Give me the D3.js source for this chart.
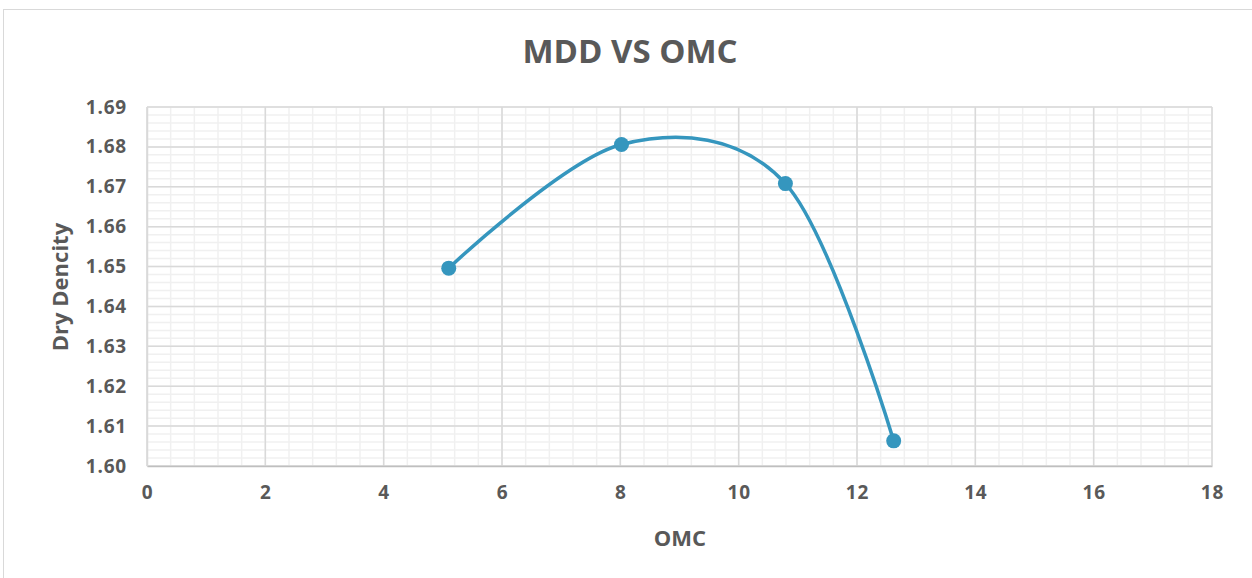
<!DOCTYPE html>
<html>
<head>
<meta charset="utf-8">
<script src="https://cdn.jsdelivr.net/npm/d3@7"></script>
<style>
  body { margin: 0; background: #fff; }
  text { font-family: "Open Sans", Lato, sans-serif; font-weight: bold; fill: #595959; }
</style>
</head>
<body>
<div id="chart"></div>
<script>
var omc = [5.1, 8.02, 10.79, 12.62];
var dryDensity = [1.6496, 1.6806, 1.6708, 1.6063];
var xTicks = [0, 2, 4, 6, 8, 10, 12, 14, 16, 18];
var yTicks = [1.60, 1.61, 1.62, 1.63, 1.64, 1.65, 1.66, 1.67, 1.68, 1.69];

var W = 1252, H = 578;
var margin = {top: 107, right: 40, bottom: 112, left: 147};
var width = 1212 - margin.left,
    height = 466 - margin.top;

var svg = d3.select("#chart")
    .append("svg")
        .attr("width", W)
        .attr("height", H);

// outer chart border
svg.append("rect")
    .attr("x", 3.5).attr("y", 9.5)
    .attr("width", W + 10).attr("height", H + 10)
    .attr("fill", "none")
    .attr("stroke", "#d9d9d9");

var g = svg.append("g")
    .attr("transform", "translate(" + margin.left + "," + margin.top + ")");

var x = d3.scaleLinear().domain([0, 18]).range([0, width]);
var y = d3.scaleLinear().domain([1.60, 1.69]).range([height, 0]);

// minor gridlines
var minorX = d3.range(0, 18.001, 0.4);
var minorY = d3.range(0, 46).map(function(i) { return 1.60 + i * 0.002; });

g.selectAll(".minor-x")
    .data(minorX)
    .enter().append("line")
        .attr("x1", function(d) { return x(d); })
        .attr("x2", function(d) { return x(d); })
        .attr("y1", 0).attr("y2", height)
        .attr("stroke", "#f0f0f0")
        .attr("stroke-width", 1.5);

g.selectAll(".minor-y")
    .data(minorY)
    .enter().append("line")
        .attr("x1", 0).attr("x2", width)
        .attr("y1", function(d) { return y(d); })
        .attr("y2", function(d) { return y(d); })
        .attr("stroke", "#f0f0f0")
        .attr("stroke-width", 1.5);

// major gridlines
g.selectAll(".major-x")
    .data(xTicks)
    .enter().append("line")
        .attr("x1", function(d) { return x(d); })
        .attr("x2", function(d) { return x(d); })
        .attr("y1", 0).attr("y2", height)
        .attr("stroke", "#d9d9d9")
        .attr("stroke-width", 1.5);

g.selectAll(".major-y")
    .data(yTicks)
    .enter().append("line")
        .attr("x1", 0).attr("x2", width)
        .attr("y1", function(d) { return y(d); })
        .attr("y2", function(d) { return y(d); })
        .attr("stroke", "#d9d9d9")
        .attr("stroke-width", 1.5);

// axes
var xAxis = g.append("g")
    .attr("transform", "translate(0," + height + ")")
    .call(d3.axisBottom(x).tickValues(xTicks).tickSize(0).tickPadding(20));
xAxis.select(".domain").attr("stroke", "#bfbfbf").attr("stroke-width", 1.5);
xAxis.selectAll("text")
    .style("font-size", "19px")
    .style("letter-spacing", "0.8px")
    .attr("fill", "#595959");

var yAxis = g.append("g")
    .call(d3.axisLeft(y).tickValues(yTicks).tickFormat(d3.format(".2f")).tickSize(0).tickPadding(20));
yAxis.select(".domain").attr("stroke", "#d9d9d9").attr("stroke-width", 1.5);
yAxis.selectAll("text")
    .style("font-size", "19px")
    .style("letter-spacing", "0.8px")
    .attr("fill", "#595959");

// smoothed line
var pts = omc.map(function(d, i) { return [d, dryDensity[i]]; });

var line = d3.line()
    .x(function(d) { return x(d[0]); })
    .y(function(d) { return y(d[1]); })
    .curve(d3.curveCardinal.tension(0));

g.append("path")
    .datum(pts)
    .attr("d", line)
    .attr("fill", "none")
    .attr("stroke", "#3596be")
    .attr("stroke-width", 3.5);

g.selectAll(".pt")
    .data(pts)
    .enter().append("circle")
        .attr("cx", function(d) { return x(d[0]); })
        .attr("cy", function(d) { return y(d[1]); })
        .attr("r", 7.5)
        .attr("fill", "#3596be");

// titles
svg.append("text")
    .attr("x", 630).attr("y", 63)
    .attr("text-anchor", "middle")
    .style("font-size", "33px")
    .text("MDD VS OMC");

svg.append("text")
    .attr("x", 680).attr("y", 546)
    .attr("text-anchor", "middle")
    .style("font-size", "22px")
    .text("OMC");

svg.append("text")
    .attr("transform", "rotate(-90)")
    .attr("x", -287).attr("y", 68)
    .attr("text-anchor", "middle")
    .style("font-size", "22px")
    .text("Dry Dencity");
</script>
</body>
</html>
